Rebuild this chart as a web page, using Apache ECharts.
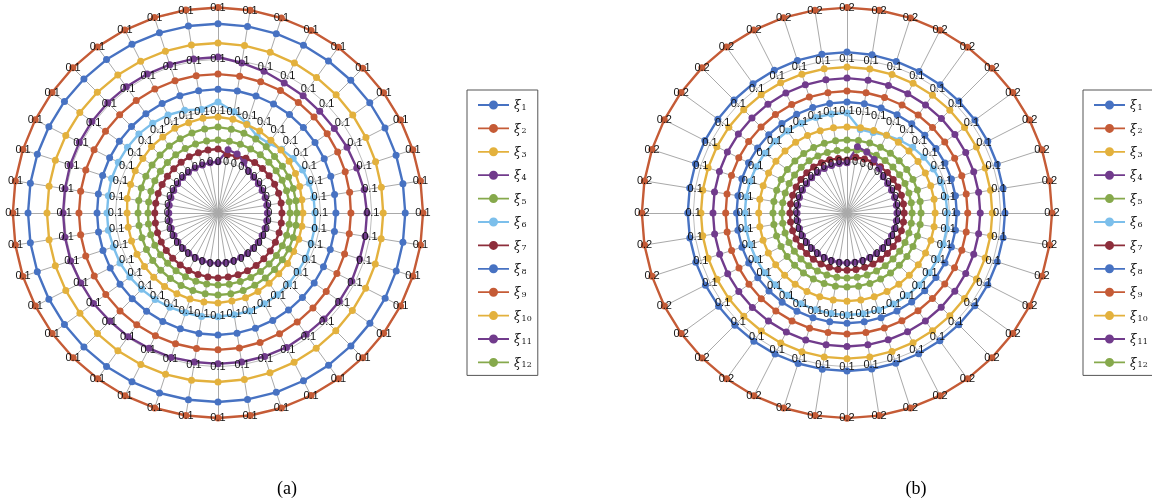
<!DOCTYPE html>
<html><head><meta charset="utf-8">
<script src="https://cdn.jsdelivr.net/npm/echarts@6/dist/echarts.min.js"></script>
<style>html,body{margin:0;padding:0;background:#fff;}#c{width:1152px;height:504px;}</style>
</head><body><div id="c"></div>
<script>
// 40 directions, read clockwise starting at the top spoke
const categories = ['d1','d2','d3','d4','d5','d6','d7','d8','d9','d10','d11','d12','d13','d14','d15','d16','d17','d18','d19','d20',
  'd21','d22','d23','d24','d25','d26','d27','d28','d29','d30','d31','d32','d33','d34','d35','d36','d37','d38','d39','d40'];
const seriesNames = ['ξ1','ξ2','ξ3','ξ4','ξ5','ξ6','ξ7','ξ8','ξ9','ξ10','ξ11','ξ12'];
const tickLabelsA = ['', '0', '0.1', '0.1', '0.1'];
const tickLabelsB = ['', '0', '0.1', '0.1', '0.2'];
const axisMaxA = 0.12;
const axisMaxB = 0.16;

// ---- panel (a) ----
const a_xi1 = [0.1108,0.1106,0.1104,0.1102,0.1100,0.1099,0.1098,0.1097,0.1096,0.1096,0.1096,0.1096,0.1097,0.1098,0.1099,0.1100,0.1101,0.1102,0.1104,0.1105,0.1106,0.1107,0.1108,0.1109,0.1110,0.1110,0.1111,0.1111,0.1112,0.1112,0.1112,0.1112,0.1112,0.1111,0.1111,0.1110,0.1110,0.1109,0.1109,0.1108];
const a_xi2 = [0.1203,0.1202,0.1200,0.1199,0.1199,0.1198,0.1198,0.1199,0.1199,0.1200,0.1200,0.1200,0.1199,0.1199,0.1198,0.1198,0.1199,0.1199,0.1200,0.1200,0.1200,0.1200,0.1200,0.1200,0.1199,0.1199,0.1200,0.1200,0.1201,0.1201,0.1201,0.1201,0.1201,0.1201,0.1201,0.1202,0.1202,0.1202,0.1203,0.1203];
const a_xi3 = [0.0995,0.0992,0.0989,0.0985,0.0981,0.0978,0.0975,0.0972,0.0970,0.0968,0.0967,0.0967,0.0968,0.0970,0.0972,0.0975,0.0978,0.0981,0.0984,0.0987,0.0989,0.0991,0.0993,0.0995,0.0997,0.0998,0.0999,0.1000,0.1001,0.1001,0.1001,0.1001,0.1001,0.1000,0.1000,0.0999,0.0998,0.0997,0.0996,0.0996];
const a_xi4 = [0.0913,0.0889,0.0872,0.0854,0.0848,0.0842,0.0842,0.0848,0.0854,0.0866,0.0872,0.0872,0.0872,0.0878,0.0878,0.0878,0.0878,0.0883,0.0883,0.0883,0.0883,0.0883,0.0889,0.0889,0.0895,0.0895,0.0901,0.0901,0.0907,0.0907,0.0907,0.0907,0.0910,0.0911,0.0912,0.0913,0.0913,0.0913,0.0913,0.0913];
const a_xi5 = [0.0503,0.0497,0.0491,0.0486,0.0480,0.0468,0.0466,0.0464,0.0463,0.0462,0.0462,0.0462,0.0463,0.0465,0.0466,0.0468,0.0471,0.0474,0.0477,0.0479,0.0480,0.0479,0.0477,0.0476,0.0474,0.0474,0.0472,0.0470,0.0468,0.0468,0.0468,0.0470,0.0472,0.0474,0.0477,0.0480,0.0484,0.0488,0.0493,0.0498];
const a_xi6 = [0.0650,0.0600,0.0550,0.0505,0.0505,0.0527,0.0544,0.0556,0.0562,0.0567,0.0567,0.0573,0.0573,0.0579,0.0579,0.0585,0.0591,0.0597,0.0603,0.0603,0.0608,0.0614,0.0614,0.0620,0.0626,0.0632,0.0638,0.0644,0.0644,0.0650,0.0650,0.0650,0.0655,0.0655,0.0655,0.0655,0.0650,0.0644,0.0632,0.0614];
const a_xi7 = [0.0375,0.0345,0.0350,0.0360,0.0365,0.0368,0.0370,0.0372,0.0373,0.0374,0.0374,0.0375,0.0376,0.0377,0.0378,0.0379,0.0380,0.0380,0.0380,0.0380,0.0380,0.0379,0.0378,0.0377,0.0376,0.0375,0.0374,0.0373,0.0372,0.0371,0.0370,0.0369,0.0368,0.0367,0.0366,0.0366,0.0367,0.0369,0.0371,0.0373];
const a_xi8 = [0.0725,0.0723,0.0720,0.0716,0.0712,0.0707,0.0702,0.0698,0.0694,0.0691,0.0690,0.0690,0.0691,0.0693,0.0696,0.0699,0.0702,0.0706,0.0709,0.0712,0.0714,0.0714,0.0713,0.0712,0.0711,0.0710,0.0709,0.0708,0.0708,0.0708,0.0708,0.0709,0.0710,0.0712,0.0714,0.0716,0.0718,0.0720,0.0722,0.0724];
const a_xi9 = [0.0813,0.0811,0.0808,0.0805,0.0800,0.0795,0.0790,0.0786,0.0783,0.0780,0.0778,0.0778,0.0779,0.0781,0.0783,0.0786,0.0789,0.0793,0.0797,0.0800,0.0801,0.0803,0.0805,0.0807,0.0809,0.0811,0.0812,0.0813,0.0814,0.0814,0.0814,0.0814,0.0814,0.0814,0.0814,0.0814,0.0814,0.0814,0.0814,0.0814];
const a_xi10 = [0.0562,0.0556,0.0544,0.0538,0.0527,0.0521,0.0515,0.0509,0.0503,0.0497,0.0497,0.0497,0.0497,0.0497,0.0503,0.0503,0.0509,0.0515,0.0521,0.0521,0.0527,0.0527,0.0530,0.0530,0.0532,0.0532,0.0532,0.0532,0.0532,0.0532,0.0532,0.0538,0.0538,0.0544,0.0544,0.0550,0.0550,0.0556,0.0556,0.0562];
const a_xi11 = [0.0300,0.0375,0.0363,0.0334,0.0304,0.0295,0.0292,0.0290,0.0290,0.0289,0.0289,0.0289,0.0290,0.0290,0.0291,0.0292,0.0293,0.0293,0.0294,0.0294,0.0295,0.0295,0.0294,0.0293,0.0292,0.0291,0.0290,0.0289,0.0288,0.0288,0.0288,0.0289,0.0290,0.0291,0.0292,0.0293,0.0294,0.0295,0.0296,0.0298];
const a_xi12 = [0.0427,0.0425,0.0423,0.0421,0.0421,0.0421,0.0421,0.0422,0.0422,0.0422,0.0422,0.0422,0.0423,0.0423,0.0423,0.0423,0.0423,0.0423,0.0422,0.0422,0.0422,0.0421,0.0420,0.0419,0.0418,0.0417,0.0416,0.0415,0.0414,0.0412,0.0410,0.0411,0.0413,0.0415,0.0417,0.0419,0.0421,0.0423,0.0425,0.0426];

// ---- panel (b) ----
const b_xi1 = [0.1256,0.1250,0.1244,0.1240,0.1237,0.1235,0.1234,0.1233,0.1233,0.1233,0.1233,0.1233,0.1233,0.1233,0.1233,0.1233,0.1233,0.1233,0.1233,0.1233,0.1233,0.1234,0.1235,0.1236,0.1237,0.1238,0.1239,0.1240,0.1241,0.1242,0.1243,0.1243,0.1244,0.1245,0.1246,0.1247,0.1248,0.1250,0.1252,0.1254];
const b_xi2 = [0.1603,0.1602,0.1601,0.1600,0.1600,0.1599,0.1599,0.1599,0.1600,0.1600,0.1600,0.1600,0.1600,0.1599,0.1599,0.1599,0.1600,0.1600,0.1600,0.1601,0.1601,0.1601,0.1600,0.1600,0.1600,0.1600,0.1600,0.1600,0.1600,0.1601,0.1601,0.1601,0.1601,0.1601,0.1601,0.1602,0.1602,0.1602,0.1603,0.1603];
const b_xi3 = [0.1139,0.1138,0.1137,0.1136,0.1135,0.1135,0.1134,0.1134,0.1134,0.1134,0.1134,0.1134,0.1134,0.1134,0.1134,0.1135,0.1135,0.1136,0.1136,0.1137,0.1137,0.1137,0.1138,0.1138,0.1138,0.1139,0.1139,0.1139,0.1140,0.1140,0.1140,0.1140,0.1140,0.1140,0.1140,0.1140,0.1140,0.1140,0.1139,0.1139];
const b_xi4 = [0.1053,0.1050,0.1047,0.1045,0.1043,0.1042,0.1041,0.1040,0.1040,0.1040,0.1040,0.1040,0.1040,0.1040,0.1040,0.1040,0.1041,0.1041,0.1041,0.1042,0.1042,0.1042,0.1043,0.1043,0.1043,0.1044,0.1044,0.1045,0.1045,0.1046,0.1046,0.1047,0.1047,0.1048,0.1048,0.1049,0.1050,0.1051,0.1052,0.1052];
const b_xi5 = [0.0570,0.0572,0.0574,0.0575,0.0576,0.0577,0.0577,0.0578,0.0578,0.0578,0.0578,0.0578,0.0578,0.0578,0.0578,0.0578,0.0578,0.0578,0.0578,0.0578,0.0578,0.0578,0.0578,0.0578,0.0578,0.0578,0.0578,0.0578,0.0578,0.0578,0.0578,0.0578,0.0577,0.0577,0.0576,0.0575,0.0574,0.0573,0.0572,0.0571];
const b_xi6 = [0.0780,0.0660,0.0660,0.0680,0.0702,0.0725,0.0741,0.0757,0.0772,0.0780,0.0784,0.0788,0.0790,0.0792,0.0794,0.0796,0.0797,0.0797,0.0797,0.0796,0.0796,0.0795,0.0794,0.0794,0.0793,0.0793,0.0794,0.0795,0.0796,0.0797,0.0797,0.0797,0.0796,0.0795,0.0794,0.0792,0.0790,0.0787,0.0784,0.0782];
const b_xi7 = [0.0413,0.0440,0.0443,0.0445,0.0445,0.0446,0.0446,0.0446,0.0446,0.0446,0.0446,0.0446,0.0446,0.0446,0.0446,0.0446,0.0446,0.0446,0.0446,0.0446,0.0446,0.0446,0.0446,0.0446,0.0446,0.0446,0.0446,0.0446,0.0446,0.0446,0.0446,0.0446,0.0446,0.0445,0.0445,0.0444,0.0443,0.0441,0.0438,0.0430];
const b_xi8 = [0.0866,0.0864,0.0862,0.0861,0.0860,0.0859,0.0858,0.0858,0.0857,0.0857,0.0857,0.0857,0.0857,0.0858,0.0858,0.0858,0.0859,0.0859,0.0859,0.0860,0.0860,0.0860,0.0860,0.0860,0.0861,0.0861,0.0861,0.0861,0.0862,0.0862,0.0862,0.0862,0.0863,0.0863,0.0863,0.0864,0.0864,0.0865,0.0865,0.0866];
const b_xi9 = [0.0952,0.0950,0.0948,0.0946,0.0945,0.0944,0.0943,0.0943,0.0942,0.0942,0.0942,0.0942,0.0942,0.0942,0.0943,0.0943,0.0943,0.0944,0.0944,0.0944,0.0944,0.0944,0.0945,0.0945,0.0945,0.0946,0.0946,0.0946,0.0947,0.0947,0.0947,0.0948,0.0948,0.0948,0.0949,0.0949,0.0950,0.0950,0.0951,0.0951];
const b_xi10 = [0.0671,0.0674,0.0677,0.0680,0.0682,0.0684,0.0685,0.0686,0.0687,0.0688,0.0688,0.0688,0.0688,0.0688,0.0688,0.0688,0.0688,0.0688,0.0688,0.0688,0.0688,0.0688,0.0688,0.0688,0.0688,0.0688,0.0688,0.0689,0.0689,0.0689,0.0689,0.0689,0.0688,0.0687,0.0686,0.0684,0.0682,0.0679,0.0676,0.0673];
const b_xi11 = [0.0392,0.0523,0.0500,0.0468,0.0429,0.0400,0.0392,0.0390,0.0390,0.0390,0.0390,0.0390,0.0390,0.0390,0.0390,0.0390,0.0390,0.0390,0.0390,0.0390,0.0390,0.0390,0.0390,0.0390,0.0390,0.0390,0.0390,0.0390,0.0390,0.0390,0.0390,0.0390,0.0390,0.0390,0.0390,0.0390,0.0390,0.0390,0.0390,0.0391];
const b_xi12 = [0.0491,0.0498,0.0502,0.0505,0.0506,0.0507,0.0507,0.0508,0.0508,0.0508,0.0508,0.0508,0.0508,0.0508,0.0508,0.0508,0.0508,0.0508,0.0508,0.0508,0.0508,0.0508,0.0508,0.0508,0.0508,0.0508,0.0508,0.0508,0.0508,0.0508,0.0508,0.0508,0.0507,0.0507,0.0506,0.0505,0.0503,0.0500,0.0497,0.0494];

const panelA = [a_xi1,a_xi2,a_xi3,a_xi4,a_xi5,a_xi6,a_xi7,a_xi8,a_xi9,a_xi10,a_xi11,a_xi12];
const panelB = [b_xi1,b_xi2,b_xi3,b_xi4,b_xi5,b_xi6,b_xi7,b_xi8,b_xi9,b_xi10,b_xi11,b_xi12];
// drawing order (outer rings first)
const drawOrder = [1,0,2,3,8,7,5,9,4,11,6,10];

const colors = ['#4772C2','#C55B36','#E3B13D','#713B8C','#86A94C','#7CBFEB','#8D2E3B','#4772C2','#C55B36','#E3B13D','#713B8C','#86A94C'];

const CY = 213, R = 205;
// ECharts radar places indicators counter-clockwise: re-index the clockwise readings
function ccw(arr) { return arr.map((_, k) => arr[(arr.length - k) % arr.length]); }

function gridRadar(cx, max) {
  return {
    center: [cx, CY], radius: R, startAngle: 90, splitNumber: 4, shape: 'polygon',
    indicator: categories.map(() => ({ name: '', min: 0, max: max })),
    axisName: { show: false },
    axisLine: { lineStyle: { color: '#A9A9A9', width: 1 } },
    splitLine: { lineStyle: { color: '#BDBDBD', width: 1 } },
    splitArea: { show: false }, axisTick: { show: false }, axisLabel: { show: false }
  };
}
function labelRadar(cx, max, ticks) {
  return {
    center: [cx, CY], radius: R, startAngle: 90, splitNumber: 4, shape: 'polygon', z: 10,
    indicator: categories.map(() => ({ name: '', min: 0, max: max })),
    axisName: { show: false },
    axisLine: { show: false }, splitLine: { show: false }, splitArea: { show: false }, axisTick: { show: false },
    axisLabel: {
      show: true, margin: 0, align: 'center', verticalAlign: 'middle',
      color: '#111', fontSize: 11, fontFamily: 'Liberation Sans, Arial, sans-serif',
      formatter: function (v) { return ticks[Math.round(v / max * 4)] || ''; }
    }
  };
}
function radarSeries(radarIndex, panel) {
  return {
    type: 'radar', radarIndex: radarIndex, silent: true, symbol: 'circle', symbolSize: 7,
    emphasis: { disabled: true }, animation: false,
    data: drawOrder.map(i => ({
      name: seriesNames[i], value: ccw(panel[i]),
      itemStyle: { color: colors[i] },
      lineStyle: { color: colors[i], width: 2.4 }
    }))
  };
}
function legendFor(left) {
  return {
    data: seriesNames, orient: 'vertical', left: left, top: 90, selectedMode: false,
    borderColor: '#555', borderWidth: 1, borderRadius: 0, padding: [8, 6, 6, 11],
    itemWidth: 31, itemHeight: 9, itemGap: 9.4,
    icon: 'path://M0,3.6L31,3.6L31,5.4L0,5.4Z M11,4.5A4.5,4.5,0,1,1,20,4.5A4.5,4.5,0,1,1,11,4.5Z',
    formatter: function (n) { return '{x|ξ}{s|' + n.slice(1) + '}'; },
    textStyle: {
      color: '#111', lineHeight: 14,
      rich: {
        x: { fontFamily: 'DejaVu Serif', fontStyle: 'italic', fontSize: 12, lineHeight: 14, verticalAlign: 'bottom' },
        s: { fontFamily: 'DejaVu Serif', fontSize: 8, lineHeight: 14, padding: [6, 0, 0, 1], verticalAlign: 'bottom' }
      }
    }
  };
}

const chart = echarts.init(document.getElementById('c'), null, { renderer: 'canvas' });
chart.setOption({
  animation: false,
  backgroundColor: '#fff',
  radar: [gridRadar(218, axisMaxA), labelRadar(218, axisMaxA, tickLabelsA), gridRadar(847, axisMaxB), labelRadar(847, axisMaxB, tickLabelsB)],
  legend: [legendFor(467), legendFor(1083)],
  series: [radarSeries(0, panelA), radarSeries(2, panelB)],
  graphic: [
    { type: 'text', x: 287, y: 489, style: { text: '(a)', align: 'center', verticalAlign: 'middle', fontSize: 18, fontFamily: 'Liberation Serif', fill: '#000' } },
    { type: 'text', x: 916, y: 489, style: { text: '(b)', align: 'center', verticalAlign: 'middle', fontSize: 18, fontFamily: 'Liberation Serif', fill: '#000' } }
  ]
});
</script></body></html>
